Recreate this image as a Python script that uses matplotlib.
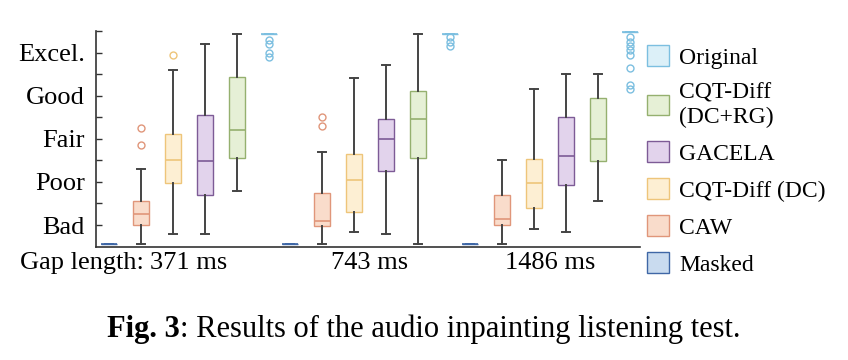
import matplotlib
matplotlib.use("Agg")
import matplotlib.pyplot as plt
from matplotlib.patches import Patch

plt.rcParams['font.family'] = ['Liberation Serif', 'DejaVu Serif']

# methods in plotting order inside each gap group
methods = ["Masked", "CAW", "CQT-Diff (DC)", "GACELA", "CQT-Diff\n(DC+RG)", "Original"]
gaps = ["371 ms", "743 ms", "1486 ms"]
ylevels = ["Bad", "Poor", "Fair", "Good", "Excel."]

# box statistics per method, one value per gap length
masked_low = [1, 1, 1]
masked_q1 = [1, 1, 1]
masked_med = [1, 1, 1]
masked_q3 = [1, 1, 1]
masked_high = [1, 1, 1]
masked_out = [[], [], []]

caw_low = [1, 1, 1]
caw_q1 = [10, 9.5, 10]
caw_med = [15, 12, 13]
caw_q3 = [21, 25, 24]
caw_high = [36, 44, 40]
caw_out = [[47, 55], [56, 60], []]

dc_low = [6, 7, 8]
dc_q1 = [29.5, 16, 18]
dc_med = [40, 31, 29.5]
dc_q3 = [52, 43, 40.5]
dc_high = [82, 78, 73]
dc_out = [[89], [], []]

gac_low = [6, 6, 7]
gac_q1 = [24, 35, 28.5]
gac_med = [39.5, 50, 42]
gac_q3 = [61, 59, 60]
gac_high = [94, 84, 80]
gac_out = [[], [], []]

rg_low = [26, 1, 21]
rg_q1 = [41, 41, 39.5]
rg_med = [54, 59, 50]
rg_q3 = [78.5, 72, 69]
rg_high = [98.5, 98.5, 80]
rg_out = [[], [], []]

orig_low = [98.5, 98.5, 99.5]
orig_q1 = [98.5, 98.5, 99.5]
orig_med = [98.5, 98.5, 99.5]
orig_q3 = [98.5, 98.5, 99.5]
orig_high = [98.5, 98.5, 99.5]
orig_out = [[96, 94, 90, 88], [97, 95, 93], [97, 95, 93, 91, 89, 83, 75, 73]]

all_stats = [
    (masked_low, masked_q1, masked_med, masked_q3, masked_high, masked_out),
    (caw_low, caw_q1, caw_med, caw_q3, caw_high, caw_out),
    (dc_low, dc_q1, dc_med, dc_q3, dc_high, dc_out),
    (gac_low, gac_q1, gac_med, gac_q3, gac_high, gac_out),
    (rg_low, rg_q1, rg_med, rg_q3, rg_high, rg_out),
    (orig_low, orig_q1, orig_med, orig_q3, orig_high, orig_out),
]

fills = ["#c9dbef", "#f9dccb", "#fdefd3", "#e2d3ec", "#e6f0d6", "#dcf0f8"]
edges = ["#3f67a6", "#e0967a", "#eec57a", "#7d5b96", "#95b06f", "#7cbfe0"]
whisk = ["#3f67a6", "#444444", "#444444", "#444444", "#444444", "#7cbfe0"]

group_step = 5.65

fig = plt.figure(figsize=(8.48, 3.6), dpi=100)
ax = fig.add_axes([0.1132, 0.315, 0.6415, 0.599])

for i, (lo, q1, med, q3, hi, out) in enumerate(all_stats):
    stats = []
    pos = []
    for g in range(len(gaps)):
        stats.append({"whislo": lo[g], "q1": q1[g], "med": med[g], "q3": q3[g],
                      "whishi": hi[g], "fliers": out[g]})
        pos.append(g * group_step + i)
    ax.bxp(stats, positions=pos, widths=0.5, patch_artist=True, manage_ticks=False,
           boxprops=dict(facecolor=fills[i], edgecolor=edges[i], linewidth=1),
           medianprops=dict(color=edges[i], linewidth=1.2),
           whiskerprops=dict(color=whisk[i], linewidth=1.4),
           capprops=dict(color=whisk[i], linewidth=1.4),
           flierprops=dict(marker="o", markersize=5, markerfacecolor="none",
                           markeredgecolor=edges[i], markeredgewidth=1))

ax.set_xlim(-0.4, 16.6)
ax.set_ylim(0, 100)
ax.set_yticks(range(10, 101, 10))
ax.set_yticklabels(["Bad", "", "Poor", "", "Fair", "", "Good", "", "Excel.", ""], fontsize=19)
ax.tick_params(axis="y", direction="in", length=4, width=1, pad=8, colors="#333333",
               labelcolor="black")
ax.set_xticks([])
for s in ["top", "right"]:
    ax.spines[s].set_visible(False)
for s in ["left", "bottom"]:
    ax.spines[s].set_color("#333333")
    ax.spines[s].set_linewidth(1.2)

# gap length labels under each group
labels = []
for g, name in enumerate(gaps):
    cx = g * group_step + 2.5
    t = ax.text(cx, -0.025, name, transform=ax.get_xaxis_transform(),
                ha="center", va="top", fontsize=19)
    labels.append(t)
ax.annotate("Gap length: ", xy=(0, 0), xycoords=labels[0], ha="right", va="bottom",
            fontsize=19)

handles = [Patch(facecolor=fills[i], edgecolor=edges[i], linewidth=1)
           for i in range(len(methods))][::-1]
fig.legend(handles, methods[::-1], loc="upper left", bbox_to_anchor=(0.744, 0.92),
           frameon=False, fontsize=17, handlelength=0.9, handleheight=0.95,
           handletextpad=0.45, labelspacing=0.58, borderpad=0.2)

cap = fig.text(0.126, 0.064, "Fig. 3", fontsize=22, fontweight="bold", ha="left", va="baseline")
fig.text(0, 0, ": Results of the audio inpainting listening test.", fontsize=22,
         ha="left", va="baseline")
fig.canvas.draw()
bb = cap.get_window_extent()
fig.texts[-1].set_position((fig.transFigure.inverted().transform((bb.x1, bb.y0))[0], 0.064))

fig.savefig("out.png", dpi=100)
